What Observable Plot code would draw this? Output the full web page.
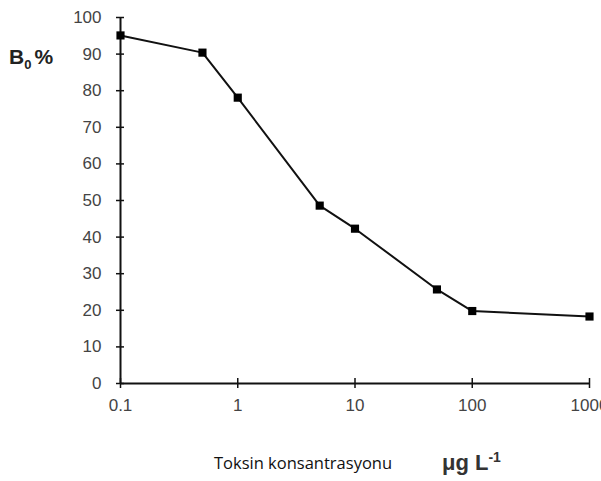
<!DOCTYPE html>
<html><head><meta charset="utf-8">
<script src="https://cdn.jsdelivr.net/npm/d3@7"></script>
<script src="https://cdn.jsdelivr.net/npm/@observablehq/plot@0.6"></script>
<style>
body{margin:0;background:#fff;}
#wrap{position:relative;width:601px;height:481px;overflow:hidden;}
#ylab{position:absolute;left:9px;top:45px;font:bold 21px "Liberation Sans",Arial,sans-serif;color:#222;}
#ylab sub{font-size:13px;margin-right:3px;}
#xlab{position:absolute;left:214px;top:451px;font:16.5px "Open Sans",sans-serif;color:#111;}
#unit{position:absolute;left:442px;top:449px;font:bold 22px "Liberation Sans",Arial,sans-serif;color:#333;}
#unit sup{font-size:14px;}
</style></head>
<body><div id="wrap"></div>
<script>
const concentrations = [0.1, 0.5, 1, 5, 10, 50, 100, 1000];
const b0Percent = [95.1, 90.4, 78.1, 48.6, 42.3, 25.7, 19.8, 18.3];
const xTicks = [0.1, 1, 10, 100, 1000];
const yTicks = [0, 10, 20, 30, 40, 50, 60, 70, 80, 90, 100];
const data = concentrations.map((c, i) => ({c, v: b0Percent[i]}));

const plot = Plot.plot({
  width: 601, height: 440,
  marginLeft: 120, marginRight: 12, marginTop: 17, marginBottom: 57,
  style: {fontFamily: '"Liberation Sans",Arial,sans-serif', fontSize: "17px", color: "#444"},
  x: {type: "log", domain: [0.1, 1000]},
  y: {domain: [0, 100]},
  marks: [
    Plot.axisX({ticks: xTicks, tickFormat: d => String(d), tickSize: 5, tickPadding: 10, label: null, stroke: "#111", strokeWidth: 1.5, fontSize: 17}),
    Plot.axisX({ticks: xTicks, tickSize: -5, text: null, label: null, stroke: "#111", strokeWidth: 1.5}),
    Plot.axisY({ticks: yTicks, tickSize: 4, tickPadding: 15, label: null, stroke: "#111", strokeWidth: 1.5, fontSize: 17}),
    Plot.axisY({ticks: yTicks, tickSize: -4, text: null, label: null, stroke: "#111", strokeWidth: 1.5}),
    Plot.ruleX([0.1], {stroke: "#111", strokeWidth: 2}),
    Plot.ruleY([0], {stroke: "#111", strokeWidth: 2}),
    Plot.line(data, {x: "c", y: "v", stroke: "#111", strokeWidth: 2}),
    Plot.dot(data, {x: "c", y: "v", symbol: "square", r: 4.6, fill: "#000", stroke: "none"})
  ]
});
const wrap = document.getElementById("wrap");
wrap.appendChild(plot);
wrap.insertAdjacentHTML("beforeend",
  '<div id="ylab">B<sub>0</sub>%</div><div id="xlab">Toksin konsantrasyonu</div><div id="unit">μg L<sup>-1</sup></div>');
</script></body></html>
